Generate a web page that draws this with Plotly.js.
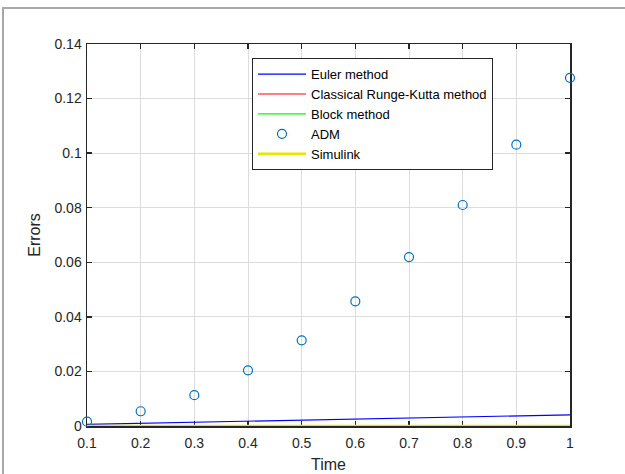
<!DOCTYPE html>
<html>
<head>
<meta charset="utf-8">
<script src="https://cdn.plot.ly/plotly-3.0.1.min.js"></script>
<style>
html,body{margin:0;padding:0;background:#fff;}
#wrap{position:relative;width:625px;height:474px;}
#chart{width:625px;height:474px;}
#frame{position:absolute;left:2px;top:7px;width:640px;height:480px;border-left:2px solid #a8a8a8;border-top:2px solid #a8a8a8;pointer-events:none;}
</style>
</head>
<body>
<div id="wrap"><div id="chart"></div><div id="frame"></div></div>
<script>
const time = [0.1, 0.2, 0.3, 0.4, 0.5, 0.6, 0.7, 0.8, 0.9, 1.0];
const eulerErr = [0.0006, 0.0010, 0.0014, 0.0018, 0.0022, 0.0026, 0.0030, 0.0034, 0.0037, 0.0041];
const rkErr = [0, 0, 0, 0, 0, 0, 0, 0, 0, 0];
const blockErr = [0, 0, 0, 0, 0, 0, 0, 0, 0, 0];
const admErr = [0.0016, 0.0054, 0.0113, 0.0204, 0.0314, 0.0457, 0.0619, 0.0810, 0.1031, 0.1276];
const simulinkErr = [0, 0, 0, 0, 0, 0, 0, 0, 0, 0];
const xTicks = [0.1, 0.2, 0.3, 0.4, 0.5, 0.6, 0.7, 0.8, 0.9, 1];
const xTickText = ['0.1', '0.2', '0.3', '0.4', '0.5', '0.6', '0.7', '0.8', '0.9', '1'];
const yTicks = [0, 0.02, 0.04, 0.06, 0.08, 0.1, 0.12, 0.14];
const yTickText = ['0', '0.02', '0.04', '0.06', '0.08', '0.1', '0.12', '0.14'];

const FONT = 'Arial, Liberation Sans, sans-serif';

const traces = [
  {x: time, y: eulerErr, mode: 'lines', name: 'Euler method', line: {color: '#0000ff', width: 1.2}},
  {x: time, y: rkErr, mode: 'lines', name: 'Classical Runge-Kutta method', line: {color: '#ff0000', width: 1.2}},
  {x: time, y: blockErr, mode: 'lines', name: 'Block method', line: {color: '#00ff00', width: 1.2}},
  {x: time, y: admErr, mode: 'markers', name: 'ADM', cliponaxis: false,
   marker: {symbol: 'circle-open', size: 9, color: '#0072bd', line: {width: 1.2, color: '#0072bd'}}},
  {x: time, y: simulinkErr, mode: 'lines', name: 'Simulink', line: {color: '#e6e600', width: 2.5}}
];

const axisCommon = {
  showline: true, linecolor: '#262626', linewidth: 1.5, mirror: 'ticks',
  ticks: 'inside', ticklen: 5, tickcolor: '#262626', tickwidth: 1.5,
  showgrid: true, gridcolor: '#dcdcdc', gridwidth: 1, zeroline: false,
  tickfont: {family: FONT, size: 14, color: '#262626'},
  layer: 'below traces'
};

const layout = {
  width: 625, height: 474,
  margin: {l: 87, r: 55, t: 44, b: 48},
  paper_bgcolor: '#ffffff', plot_bgcolor: '#ffffff',
  showlegend: true,
  legend: {
    x: 0.3416, y: 0.963, xanchor: 'left', yanchor: 'top',
    bgcolor: '#ffffff', bordercolor: '#262626', borderwidth: 1,
    font: {family: FONT, size: 13, color: '#000000'},
    tracegroupgap: 0, itemwidth: 48
  },
  xaxis: Object.assign({}, axisCommon, {
    range: [0.1, 1], tickvals: xTicks, ticktext: xTickText, ticklabelstandoff: 4,
    title: {text: 'Time', font: {family: FONT, size: 16, color: '#262626'}, standoff: 8}
  }),
  yaxis: Object.assign({}, axisCommon, {
    range: [0, 0.14], tickvals: yTicks, ticktext: yTickText, ticklabelstandoff: 1,
    title: {text: 'Errors', font: {family: FONT, size: 16, color: '#262626'}, standoff: 10}
  })
};

Plotly.newPlot('chart', traces, layout, {displayModeBar: false, staticPlot: true});
</script>
</body>
</html>
